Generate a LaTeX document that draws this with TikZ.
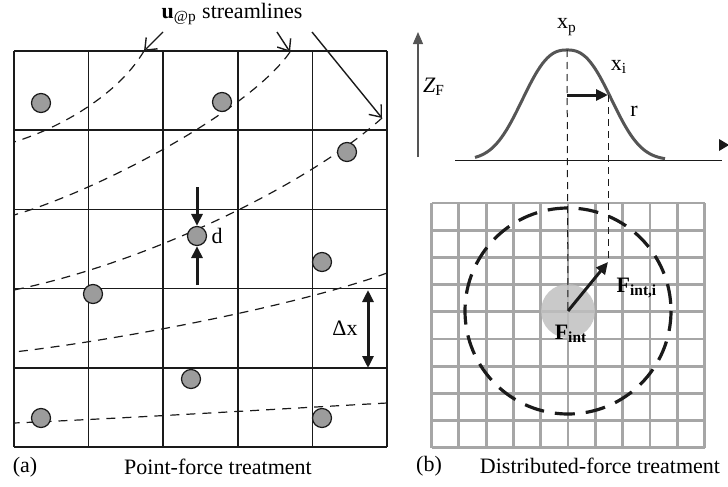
\documentclass[tikz,border=0pt]{standalone}
\usepackage{fontspec}
\setmainfont{Liberation Serif}
\usetikzlibrary{arrows.meta,positioning}
\definecolor{ink}{HTML}{1A1A1A}
\definecolor{pgray}{HTML}{9C9C9C}
\definecolor{meshgray}{HTML}{A6A6A6}
\definecolor{curvegray}{HTML}{555555}

\begin{document}
\begin{tikzpicture}[x=0.5pt,y=-0.5pt,
  lbl/.style={font=\fontsize{11}{13}\selectfont,inner sep=1pt},
  part/.style={circle,draw=ink,line width=0.6pt,fill=pgray,minimum size=9.5pt,inner sep=0pt},
  cell/.style={draw=ink,line width=0.8pt},
  stream/.style={draw=ink,line width=0.6pt,dash pattern=on 4.5pt off 3.5pt},
  ptr/.style={-{Straight Barb[length=5pt,width=8pt]},draw=ink,line width=0.7pt},
  thick arr/.style={-{Triangle[length=6pt,width=5.5pt]},draw=ink,line width=1.5pt},
  guide/.style={draw=ink,line width=0.5pt,dash pattern=on 3.5pt off 2.5pt},
  mesh/.style={draw=meshgray,line width=1.4pt},
  ring/.style={draw=ink,line width=1.6pt,dash pattern=on 10pt off 5.5pt},
  gauss/.style={draw=curvegray,line width=1.5pt},
  zax/.style={-{Triangle[length=6pt,width=5pt]},draw=curvegray,line width=0.6pt}]
\useasboundingbox (0,0) rectangle (728,487);

% (a) point-force cells
\foreach \xx in {14,88.6,163.2,237.8,312.4,387} \draw[cell] (\xx,51) -- (\xx,447);
\foreach \yy in {51,130.2,209.4,288.6,367.8,447} \draw[cell] (14,\yy) -- (387,\yy);

% streamlines
\coordinate (s1) at (144,51);
\coordinate (s2) at (290,52);
\coordinate (s3) at (382,118);
\draw[stream] (s1) .. controls (118,95) and (60,128) .. (14,142);
\draw[stream] (s2) .. controls (250,110) and (100,190) .. (14,215);
\draw[stream] (s3) .. controls (310,183) and (150,262) .. (14,290);
\draw[stream] (387,273) .. controls (300,305) and (120,340) .. (14,352);
\draw[stream] (387,403) .. controls (260,410) and (130,418) .. (14,423);

% particles
\node[part] (p1) at (41,103) {};
\node[part] (p2) at (222,102) {};
\node[part] (p3) at (347,152) {};
\node[part] (p4) at (197,236) {};
\node[part] (p5) at (322,262) {};
\node[part] (p6) at (93,294) {};
\node[part] (p7) at (191,379) {};
\node[part] (p8) at (41,418) {};
\node[part] (p9) at (322,418) {};

\node[lbl] (ul) at (232,14) {\textbf{u}\textsubscript{@p} streamlines};
\coordinate (ua) at (163,32);
\coordinate (ub) at (277,32);
\coordinate (uc) at (312,32);
\draw[ptr] (ua) -- (s1);
\draw[ptr] (ub) -- (s2);
\draw[ptr] (uc) -- (s3);

% d and dx
\coordinate (dtop) at (197,187);
\coordinate (dbot) at (197,285);
\draw[thick arr] (dtop) -- (p4.north);
\draw[thick arr] (dbot) -- (p4.south);
\node[lbl,right=1pt of p4] (dl) {d};
\coordinate (dxa) at (368,290);
\coordinate (dxb) at (368,368);
\draw[thick arr,{Triangle[length=6pt,width=5.5pt]}-{Triangle[length=6pt,width=5.5pt]}] (dxa) -- (dxb);
\node[lbl] (dxl) at (345,328) {Δx};

\node[lbl] (capa) at (25,467) {(a)};
\node[lbl] (capat) at (218,467) {Point-force treatment};

% (b) distributed-force
\foreach \i in {0,...,10} \draw[mesh] ({431.5+27.3*\i},203) -- ({431.5+27.3*\i},448);
\foreach \j in {0,...,9} \draw[mesh] (431.5,{203+27.2*\j}) -- (704.5,{203+27.2*\j});

\coordinate (c) at (568,311);
\node[circle,fill=black!25,fill opacity=0.85,minimum size=27pt,inner sep=0pt] (fint) at (c) {};
\draw[ring] (c) circle[radius=103];

\draw[zax] (418,157) -- (418,32);
\node[lbl] (zf) at (434,87) {\textit{Z}\textsubscript{F}};
\draw[ink,line width=0.5pt] (455,160) -- (722,160);
\fill[ink] (719,139) -- (729,145) -- (719,151) -- cycle;

\draw[gauss] plot[domain=-92:98,samples=80] ({567+\x},{160-110*exp(-((abs(\x)+0.01)/54.6)^2.53)});

\coordinate (xp) at (567,50);
\coordinate (rc) at (567,95);
\coordinate (ri) at (608,95);
\coordinate (fi) at (608,262);
\draw[guide] (xp) -- (c);
\draw[guide] (ri) -- (fi);
\draw[thick arr] (rc) -- (ri);
\draw[thick arr] (c) -- (fi);

\node[lbl] (xpl) at (567,27) {x\textsubscript{p}};
\node[lbl] (xil) at (619,67) {x\textsubscript{i}};
\node[lbl] (rl) at (634,111) {r};
\node[lbl] (fl) at (571,334) {\textbf{F\textsubscript{int}}};
\node[lbl] (fil) at (637,288) {\textbf{F\textsubscript{int,i}}};

\node[lbl] (capb) at (429,466) {(b)};
\node[lbl] (capbt) at (600,466) {Distributed-force treatment};
\end{tikzpicture}
\end{document}
